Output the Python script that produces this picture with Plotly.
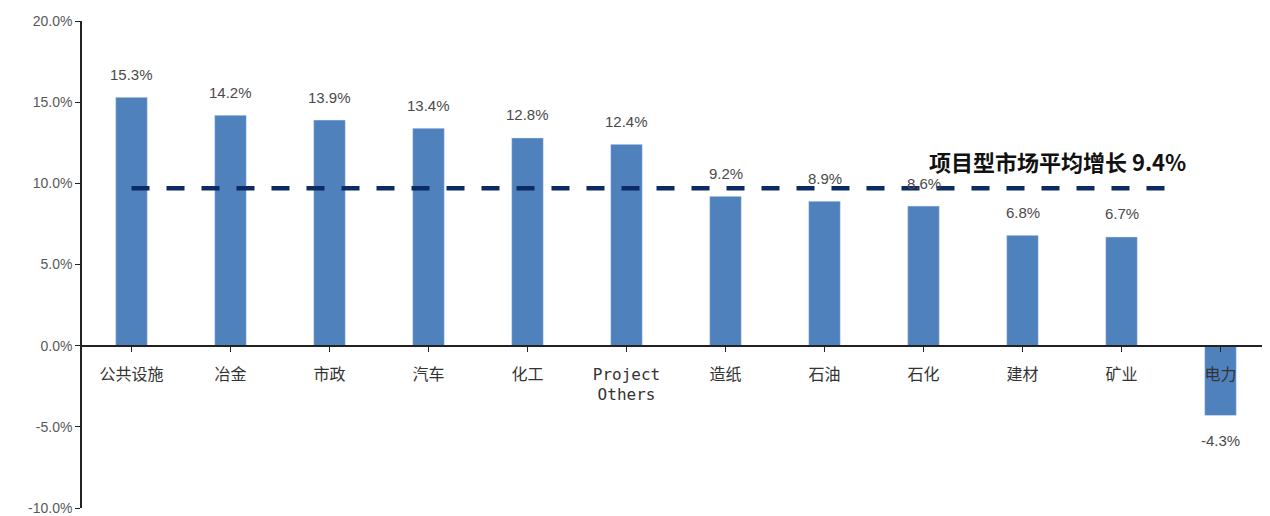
import plotly.graph_objects as go

## Data
categories = ["公共设施", "冶金", "市政", "汽车", "化工", "Project<br>Others",
              "造纸", "石油", "石化", "建材", "矿业", "电力"]
growth = [15.3, 14.2, 13.9, 13.4, 12.8, 12.4, 9.2, 8.9, 8.6, 6.8, 6.7, -4.3]
avg_label = "项目型市场平均增长 9.4%"
avg_line_level = 9.7
y_ticks = [-10, -5, 0, 5, 10, 15, 20]

bar_color = "#4f81bd"
grey = "#595959"

fig = go.Figure()
fig.add_trace(go.Bar(x=list(range(len(categories))), y=growth, width=0.32,
                     marker_color=bar_color, hoverinfo="skip"))

# data labels sitting a bit clear of the bars
for i, v in enumerate(growth):
    fig.add_annotation(x=i, y=v, text=f"{v:.1f}%", showarrow=False,
                       yshift=23 if v >= 0 else -25,
                       font=dict(family="Liberation Sans, Arial", size=15, color="#4a4a4a"))

# average dashed line
fig.add_trace(go.Scatter(x=[0, len(categories) - 1.56], y=[avg_line_level] * 2, mode="lines",
                         line=dict(color="#0d2b63", width=4.5, dash="18px,17px"),
                         hoverinfo="skip"))
fig.add_annotation(x=9.35, y=avg_line_level, text=f"<b>{avg_label}</b>", showarrow=False,
                   yshift=27, font=dict(family="Noto Sans CJK SC", size=22, color="#111111"))

# page body has an 8px margin, so the figure is sized to fill the rest of the window
fig.update_layout(
    width=1262, height=508, showlegend=False,
    plot_bgcolor="white", paper_bgcolor="white",
    margin=dict(l=74, r=0, t=13, b=8, autoexpand=False),
)
fig.update_xaxes(
    range=[-0.5, len(categories) - 0.5], automargin=False,
    tickmode="array", tickvals=list(range(len(categories))), ticktext=categories,
    anchor="free", position=1 / 3,
    showline=True, linecolor="#222", linewidth=1.5,
    ticks="outside", ticklen=6, tickcolor="#222", tickson="boundaries",
    ticklabelstandoff=8,
    showgrid=False, zeroline=False,
    tickfont=dict(family="DejaVu Sans Mono, Noto Sans CJK SC", size=16, color="#333"),
)
fig.update_yaxes(
    range=[-10, 20], tickvals=y_ticks, ticktext=[f"{t:.1f}%" for t in y_ticks],
    automargin=False,
    showline=True, linecolor="#222", linewidth=1.5,
    ticks="outside", ticklen=5, tickcolor="#222",
    showgrid=False, zeroline=False,
    tickfont=dict(family="Liberation Sans, Arial", size=14, color=grey),
)

fig.write_html("out.html")
